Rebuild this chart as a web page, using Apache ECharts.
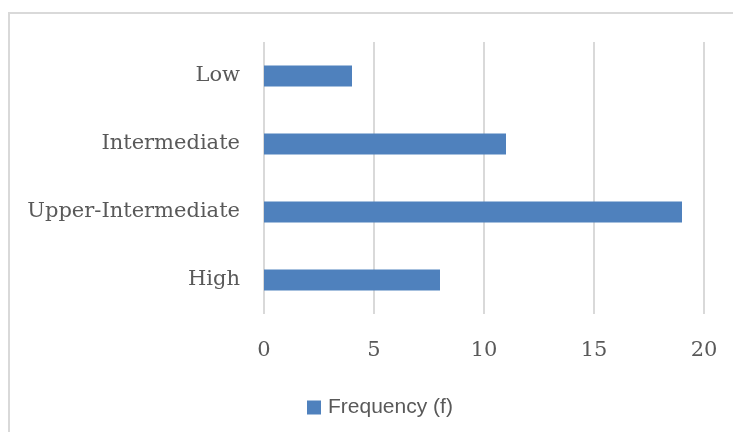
<!DOCTYPE html>
<html>
<head>
<meta charset="utf-8">
<script src="https://cdn.jsdelivr.net/npm/echarts@6/dist/echarts.min.js"></script>
<style>html,body{margin:0;padding:0;background:#fff}#c{width:733px;height:432px}</style>
</head>
<body>
<div id="c"></div>
<script>
const categories = ['Low', 'Intermediate', 'Upper-Intermediate', 'High'];
const frequency = [4, 11, 19, 8];
const seriesName = 'Frequency (f)';

const chart = echarts.init(document.getElementById('c'), null, {renderer: 'canvas'});
chart.setOption({
  animation: false,
  backgroundColor: '#fff',
  graphic: [{
    type: 'rect', silent: true,
    shape: {x: 9, y: 13, width: 760, height: 460},
    style: {fill: 'none', stroke: '#d9d9d9', lineWidth: 2}
  }],
  grid: {left: 264, right: 29, top: 42, bottom: 118, containLabel: false},
  legend: {
    data: [seriesName],
    top: 392,
    left: 302,
    itemWidth: 14, itemHeight: 14, itemGap: 8,
    icon: 'rect',
    textStyle: {fontFamily: 'Liberation Sans', fontSize: 21, color: '#595959', padding: [0, 0, 0, 2]}
  },
  xAxis: {
    type: 'value', min: 0, max: 20, interval: 5,
    axisLine: {show: false}, axisTick: {show: false},
    splitLine: {show: true, lineStyle: {color: '#d9d9d9', width: 2}},
    axisLabel: {margin: 26, fontFamily: 'DejaVu Serif', fontSize: 21, color: '#595959'}
  },
  yAxis: {
    type: 'category', data: categories, inverse: true,
    axisLine: {show: false}, axisTick: {show: false},
    axisLabel: {margin: 24, fontFamily: 'DejaVu Serif', fontSize: 21, color: '#595959'}
  },
  series: [{
    name: seriesName, type: 'bar', data: frequency,
    barWidth: 21,
    itemStyle: {color: '#4f81bd'}
  }]
});
</script>
</body>
</html>
